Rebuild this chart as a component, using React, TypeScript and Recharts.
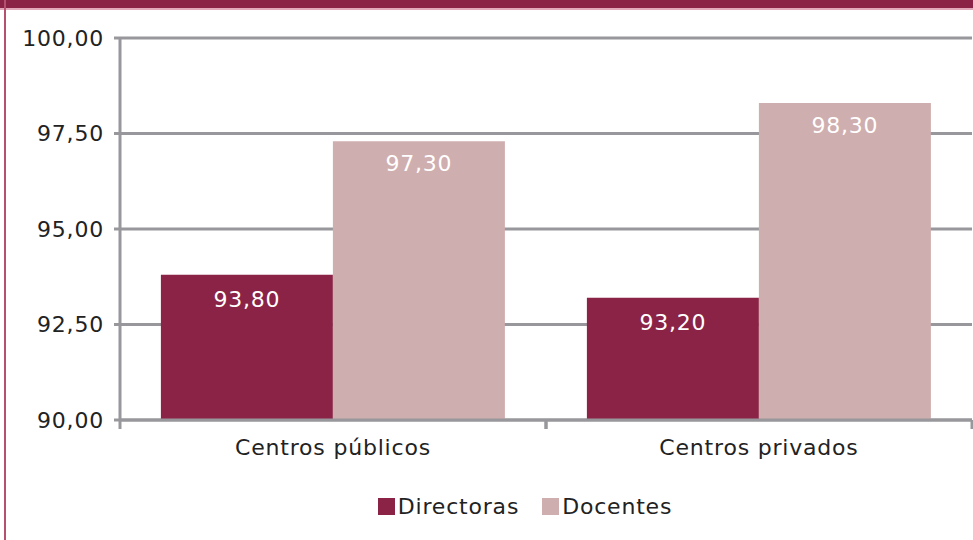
import { BarChart, Bar, XAxis, YAxis, CartesianGrid, Legend, LabelList } from 'recharts';

const categories = ['Centros públicos', 'Centros privados'];
const directoras = [93.8, 93.2];
const docentes = [97.3, 98.3];
const yTicks = [90, 92.5, 95, 97.5, 100];

const data = categories.map((name, i) => ({
  name,
  Directoras: directoras[i],
  Docentes: docentes[i],
}));

const FONT = '"DejaVu Sans", Verdana, sans-serif';
const GRID = '#98989c';
const MAROON = '#8a2346';
const PINK = '#cfaeaf';
const FS = 22;
const LS = 0.8;

const fmt = (v: number) => v.toFixed(2).replace('.', ',');

function CategoryTick(props: any) {
  const { x, y, payload } = props;
  const half = 213;
  return (
    <g>
      <line x1={x - half} y1={y - 8} x2={x - half} y2={y + 1} stroke={GRID} strokeWidth={3} />
      <line x1={x + half} y1={y - 8} x2={x + half} y2={y + 1} stroke={GRID} strokeWidth={3} />
      <text x={x} y={y + 27} textAnchor="middle" fill="#222" fontSize={FS} fontFamily={FONT} letterSpacing={LS}>
        {payload.value}
      </text>
    </g>
  );
}

function LegendContent() {
  const items = [
    { label: 'Directoras', color: MAROON },
    { label: 'Docentes', color: PINK },
  ];
  return (
    <div style={{ display: 'flex', justifyContent: 'center', gap: 23, paddingLeft: 78, fontFamily: FONT, fontSize: FS, letterSpacing: LS, color: '#222' }}>
      {items.map((it) => (
        <div key={it.label} style={{ display: 'flex', alignItems: 'center' }}>
          <span style={{ width: 17, height: 17, background: it.color, display: 'inline-block', marginRight: 3 }} />
          <span>{it.label}</span>
        </div>
      ))}
    </div>
  );
}

export default function App() {
  return (
    <div style={{ position: 'fixed', top: 0, left: 0, width: 973, height: 540, background: '#fff', overflow: 'hidden' }}>
      <div style={{ position: 'absolute', top: 0, left: 0, width: 973, height: 8, background: MAROON }} />
      <div style={{ position: 'absolute', top: 8, left: 0, width: 973, height: 2, background: '#e2a9bb' }} />
      <div style={{ position: 'absolute', top: 0, left: 4, width: 2, height: 540, background: '#b5506f' }} />
      <BarChart
        width={973}
        height={540}
        data={data}
        margin={{ top: 38, right: 1, bottom: 22, left: 0 }}
        barCategoryGap="9.6%"
        barGap={0}
      >
        <CartesianGrid horizontal vertical={false} stroke={GRID} strokeWidth={3} />
        <YAxis
          domain={[90, 100]}
          ticks={yTicks}
          width={120}
          tickFormatter={fmt}
          axisLine={{ stroke: GRID, strokeWidth: 3 }}
          tickLine={{ stroke: GRID, strokeWidth: 3 }}
          tickSize={6}
          tickMargin={10}
          tick={{ fill: '#222', fontSize: FS, fontFamily: FONT, letterSpacing: LS }}
        />
        <XAxis
          dataKey="name"
          height={74}
          axisLine={{ stroke: GRID, strokeWidth: 3 }}
          tickLine={false}
          tick={<CategoryTick />}
          interval={0}
        />
        <Legend verticalAlign="bottom" height={24} content={<LegendContent />} />
        <Bar dataKey="Directoras" fill={MAROON} isAnimationActive={false}>
          <LabelList dataKey="Directoras" position="insideTop" offset={17} formatter={(v: any) => fmt(Number(v))} fill="#fff" fontSize={FS} fontFamily={FONT} letterSpacing={LS} />
        </Bar>
        <Bar dataKey="Docentes" fill={PINK} isAnimationActive={false}>
          <LabelList dataKey="Docentes" position="insideTop" offset={14} formatter={(v: any) => fmt(Number(v))} fill="#fff" fontSize={FS} fontFamily={FONT} letterSpacing={LS} />
        </Bar>
      </BarChart>
    </div>
  );
}
